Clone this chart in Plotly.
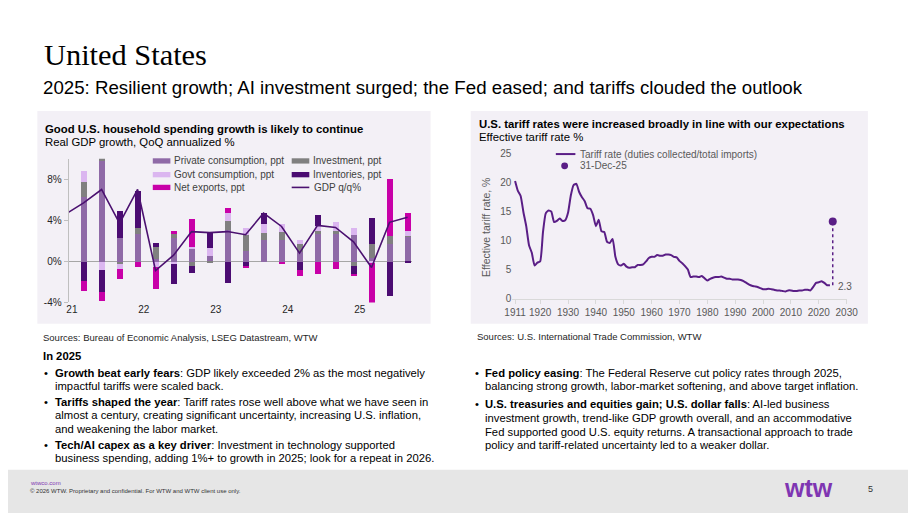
import plotly.graph_objects as go

W, H = 920, 518
def px(x):
    return x / W
def py(y):
    return 1 - y / H

SANS = "Liberation Sans, Arial, sans-serif"
SERIF = "Liberation Serif, Times New Roman, serif"

# ---------------- Left chart data (quarterly contributions, ppt) ----------------
quarters = ["2020Q4",
            "2021Q1", "2021Q2", "2021Q3", "2021Q4",
            "2022Q1", "2022Q2", "2022Q3", "2022Q4",
            "2023Q1", "2023Q2", "2023Q3", "2023Q4",
            "2024Q1", "2024Q2", "2024Q3", "2024Q4",
            "2025Q1", "2025Q2", "2025Q3"]
private_consumption = [6.3, 9.8, 2.35, 2.65, 0.25, 2.3, 1.2, 0.55, 3.1, 1.05, 2.1, 2.1, 0.95, 2.65, 2.7, 2.6, 0.4, 1.7, 2.45]
investment = [1.5, 0.3, -0.2, 0.6, 1.2, 0.35, -0.45, -0.1, 0.85, 1.55, 0.7, 0.8, 0.8, 0.3, 0.25, -0.4, 1.3, 0.8, 0.1]
govt_consumption = [1.0, -0.85, -0.5, 0.0, -0.5, -0.2, 0.25, 0.75, 0.75, 0.65, 0.9, 0.8, 0.4, 0.55, 0.9, 0.65, -0.15, 0.0, 0.4]
inventories = [-1.9, -2.1, 2.6, 3.6, 0.35, -2.0, -0.65, 1.5, -2.05, -0.4, 1.0, 0.0, -0.8, 1.05, 0.0, -0.85, 2.6, -3.3, -0.15]
net_exports = [-1.0, -0.85, -1.0, -0.55, -2.2, 0.3, 2.7, 0.0, 0.5, -0.2, 0.0, -0.2, -0.55, -1.2, -0.7, -0.1, -4.5, 5.6, 1.75]
gdp_qq = [4.6, 5.7, 7.0, 3.7, 7.0, -0.9, 0.6, 2.9, 2.8, 2.9, 2.6, 4.7, 3.4, 0.8, 3.5, 3.3, 1.9, -0.6, 3.8, 4.3]
year_labels = ["21", "22", "23", "24", "25"]
y_ticks_left = [-4, 0, 4, 8]

# ---------------- Right chart data (effective tariff rate, %) ----------------
tariff_years = list(range(1911, 2025))
tariff_rate = [
    20.3, 18.6, 17.7, 14.9, 12.5, 9.2, 7.9, 5.7, 6.2, 6.4,      # 1911-1920
    11.4, 14.7, 15.2, 15.0, 13.2, 13.4, 13.8, 13.4, 13.5, 14.8,  # 1921-1930
    17.8, 19.6, 19.8, 18.4, 17.5, 16.8, 15.6, 15.5, 14.4, 12.5,  # 1931-1940
    13.6, 11.6, 11.5, 9.8, 9.6, 10.3, 7.2, 5.9, 5.7, 6.0,        # 1941-1950
    5.5, 5.3, 5.4, 5.4, 5.8, 5.8, 5.9, 6.4, 7.0, 7.2,            # 1951-1960
    7.2, 7.5, 7.4, 7.4, 7.6, 7.6, 7.5, 7.2, 7.1, 6.5,            # 1961-1970
    6.1, 5.6, 5.0, 3.7, 3.8, 3.8, 3.7, 3.9, 3.5, 3.1,            # 1971-1980
    3.4, 3.6, 3.7, 3.7, 3.8, 3.6, 3.4, 3.4, 3.3, 3.3,            # 1981-1990
    3.3, 3.2, 3.0, 2.7, 2.4, 2.2, 2.1, 2.0, 1.8, 1.6,            # 1991-2000
    1.6, 1.7, 1.6, 1.5, 1.4, 1.4, 1.3, 1.2, 1.4, 1.4,            # 2001-2010
    1.3, 1.3, 1.4, 1.4, 1.5, 1.5, 1.4, 2.0, 2.7, 2.8,            # 2011-2020
    3.0, 2.7, 2.3, 2.3,                                          # 2021-2024
]
dec25_year = [2025, 2025]
dec25_span = [2.3, 13.3]
dec25_point = [13.3]
last_label = "2.3"
x_ticks_right = [1911] + list(range(1920, 2031, 10))
y_ticks_right = [0, 5, 10, 15, 20, 25]

# colours
C_PC = "#8f6aa7"
C_INV = "#808080"
C_GOV = "#dbb6f0"
C_STK = "#4b0c72"
C_NX = "#c800a8"
C_GDP = "#4b1170"
C_TAR = "#5a1e86"
PANEL = "#f3f0f6"

fig = go.Figure()

xq = list(range(len(quarters)))
xb = xq[1:]
bar_w = 0.36
bar_series = [
    ("Private consumption, ppt", private_consumption, C_PC),
    ("Investment, ppt", investment, C_INV),
    ("Govt consumption, ppt", govt_consumption, C_GOV),
    ("Inventories, ppt", inventories, C_STK),
    ("Net exports, ppt", net_exports, C_NX),
]
for name, vals, col in bar_series:
    fig.add_trace(go.Bar(x=xb, y=vals, name=name, marker=dict(color=col, line=dict(width=0)),
                         width=bar_w, xaxis="x", yaxis="y", showlegend=False))
fig.add_trace(go.Scatter(x=xq, y=gdp_qq, name="GDP q/q%", mode="lines",
                         line=dict(color=C_GDP, width=1.6), xaxis="x", yaxis="y", showlegend=False))

fig.add_trace(go.Scatter(x=tariff_years, y=tariff_rate, name="Tariff rate (duties collected/total imports)",
                         mode="lines", line=dict(color=C_TAR, width=2, shape="spline", smoothing=0.5),
                         xaxis="x2", yaxis="y2", showlegend=False))
fig.add_trace(go.Scatter(x=dec25_year, y=dec25_span, mode="lines", showlegend=False,
                         line=dict(color=C_TAR, width=1.5, dash="dot"), xaxis="x2", yaxis="y2"))
fig.add_trace(go.Scatter(x=dec25_year[:1], y=dec25_point, name="31-Dec-25", mode="markers",
                         marker=dict(color=C_TAR, size=8), xaxis="x2", yaxis="y2", showlegend=False))

year_pos = [xq[quarters.index("20" + y + "Q1")] - 0.65 for y in year_labels]

shapes = [
    dict(type="rect", xref="paper", yref="paper", x0=px(30), x1=px(432), y0=py(325), y1=py(108),
         fillcolor=PANEL, line=dict(width=0), layer="below"),
    dict(type="rect", xref="paper", yref="paper", x0=px(473), x1=px(879), y0=py(325), y1=py(108),
         fillcolor=PANEL, line=dict(width=0), layer="below"),
    dict(type="rect", xref="paper", yref="paper", x0=0, x1=1, y0=0, y1=py(474),
         fillcolor="#e6e6e6", line=dict(width=0), layer="below"),
]

ann = []
def txt(x, y, s, size=11, color="#000000", family=SANS, xanchor="left", **kw):
    ann.append(dict(x=px(x), y=py(y), xref="paper", yref="paper", text=s, showarrow=False,
                    xanchor=xanchor, yanchor="middle", font=dict(size=size, color=color, family=family), **kw))

# ---- legends (swatch + label) ----
def legend_rect(x, y, color, label, tcol="#404040"):
    shapes.append(dict(type="rect", xref="paper", yref="paper", x0=px(x), x1=px(x + 18),
                       y0=py(y + 2.7), y1=py(y - 2.7), fillcolor=color, line=dict(width=0)))
    txt(x + 20, y, label, size=10, color=tcol)

def legend_line(x, y, color, label, length=18, tcol="#404040", width=1.6):
    shapes.append(dict(type="line", xref="paper", yref="paper", x0=px(x), x1=px(x + length),
                       y0=py(y), y1=py(y), line=dict(color=color, width=width)))
    txt(x + length + 3, y, label, size=10, color=tcol)

legend_rect(148, 159, C_PC, bar_series[0][0])
legend_rect(148, 173, C_GOV, bar_series[2][0])
legend_rect(148, 186, C_NX, bar_series[4][0])
legend_rect(290, 159, C_INV, bar_series[1][0])
legend_rect(290, 173, C_STK, bar_series[3][0])
legend_line(290, 186, C_GDP, "GDP q/q%")

legend_line(560, 152, C_TAR, "Tariff rate (duties collected/total imports)", length=20, tcol="#595959", width=2)
shapes.append(dict(type="circle", xref="paper", yref="paper", x0=px(565.5), x1=px(572.5),
                   y0=py(167.5), y1=py(160.5), fillcolor=C_TAR, line=dict(width=0)))
txt(583, 164, "31-Dec-25", size=10, color="#595959")

txt(35, 51, "United States", size=30.4, family=SERIF)
txt(34, 84, "2025: Resilient growth; AI investment surged; the Fed eased; and tariffs clouded the outlook", size=18.7)

txt(36, 126, "<b>Good U.S. household spending growth is likely to continue</b>", size=11.35)
txt(36, 139.5, "Real GDP growth, QoQ annualized %", size=11.35)
txt(479, 121, "<b>U.S. tariff rates were increased broadly in line with our expectations</b>", size=11.35)
txt(479, 135, "Effective tariff rate %", size=11.35)
ann.append(dict(x=px(488), y=py(227), xref="paper", yref="paper", text="Effective tariff rate, %",
                showarrow=False, textangle=-90, xanchor="center", yanchor="middle",
                font=dict(size=10.5, color="#595959", family=SANS)))
ann.append(dict(x=2026.3, y=2.0, xref="x2", yref="y2", text=last_label, showarrow=False,
                xanchor="left", yanchor="middle", font=dict(size=10, color="#595959", family=SANS)))

txt(34, 339, "Sources: Bureau of Economic Analysis, LSEG Datastream, WTW", size=9.5, color="#262626")
txt(34, 358, "<b>In 2025</b>", size=11.25)
left_lines = [
    (375, True, "<b>Growth beat early fears</b>: GDP likely exceeded 2% as the most negatively"),
    (388, False, "impactful tariffs were scaled back."),
    (405, True, "<b>Tariffs shaped the year</b>: Tariff rates rose well above what we have seen in"),
    (418, False, "almost a century, creating significant uncertainty, increasing U.S. inflation,"),
    (432, False, "and weakening the labor market."),
    (449, True, "<b>Tech/AI capex as a key driver</b>: Investment in technology supported"),
    (462, False, "business spending, adding 1%+ to growth in 2025; look for a repeat in 2026."),
]
for y, b, s in left_lines:
    if b:
        txt(35, y, "•", size=11.25)
    txt(46, y, s, size=11.25)

txt(477, 338, "Sources: U.S. International Trade Commission, WTW", size=9.5, color="#262626")
right_lines = [
    (375, True, "<b>Fed policy easing</b>: The Federal Reserve cut policy rates through 2025,"),
    (388, False, "balancing strong growth, labor-market softening, and above target inflation."),
    (407, True, "<b>U.S. treasuries and equities gain; U.S. dollar falls</b>: AI-led business"),
    (421, False, "investment growth, trend-like GDP growth overall, and an accommodative"),
    (435, False, "Fed supported good U.S. equity returns. A transactional approach to trade"),
    (449, False, "policy and tariff-related uncertainty led to a weaker dollar."),
]
for y, b, s in right_lines:
    if b:
        txt(475, y, "•", size=11.25)
    txt(486, y, s, size=11.25)

txt(20, 487, "wtwco.com", size=6, color="#7f35b2")
txt(20, 496, "© 2026 WTW. Proprietary and confidential. For WTW and WTW client use only.", size=6, color="#333333")
txt(818, 493, "<b>wtw</b>", size=25, color="#7f35b2", xanchor="center")
txt(882, 494, "5", size=9, color="#333333", xanchor="center")

fig.update_layout(
    width=W, height=H, autosize=False,
    margin=dict(l=0, r=0, t=0, b=0),
    paper_bgcolor="white", plot_bgcolor="rgba(0,0,0,0)",
    barmode="relative", bargap=0,
    font=dict(family=SANS, size=10, color="#262626"),
    shapes=shapes, annotations=ann, showlegend=False,
    xaxis=dict(domain=[px(62), px(413)], range=[0.17, 19.25], tickvals=year_pos, ticktext=year_labels,
               showgrid=False, zeroline=False, showline=False, ticks="", anchor="y",
               tickfont=dict(size=10, color="#262626")),
    yaxis=dict(domain=[py(303.3), py(156.7)], range=[-4, 10], tickvals=y_ticks_left,
               ticktext=[f"{v}%" for v in y_ticks_left], showgrid=False,
               zeroline=True, zerolinecolor="#a6a6a6", zerolinewidth=1,
               showline=True, linecolor="#bfbfbf", linewidth=1, ticks="outside", ticklen=4,
               tickcolor="#bfbfbf", anchor="x", tickfont=dict(size=10, color="#262626")),
    xaxis2=dict(domain=[px(515.5), px(857.3)], range=[1910, 2030], tickvals=x_ticks_right,
                showgrid=False, zeroline=False, showline=True, linecolor="#d9d9d9", linewidth=1,
                ticks="outside", ticklen=4, tickcolor="#d9d9d9", anchor="y2",
                tickfont=dict(size=10, color="#595959")),
    yaxis2=dict(domain=[py(299.3), py(151.7)], range=[0, 25], tickvals=y_ticks_right,
                showgrid=False, zeroline=False, showline=False, ticks="", anchor="x2",
                tickfont=dict(size=10, color="#595959")),
)

fig.write_html("out.html")
